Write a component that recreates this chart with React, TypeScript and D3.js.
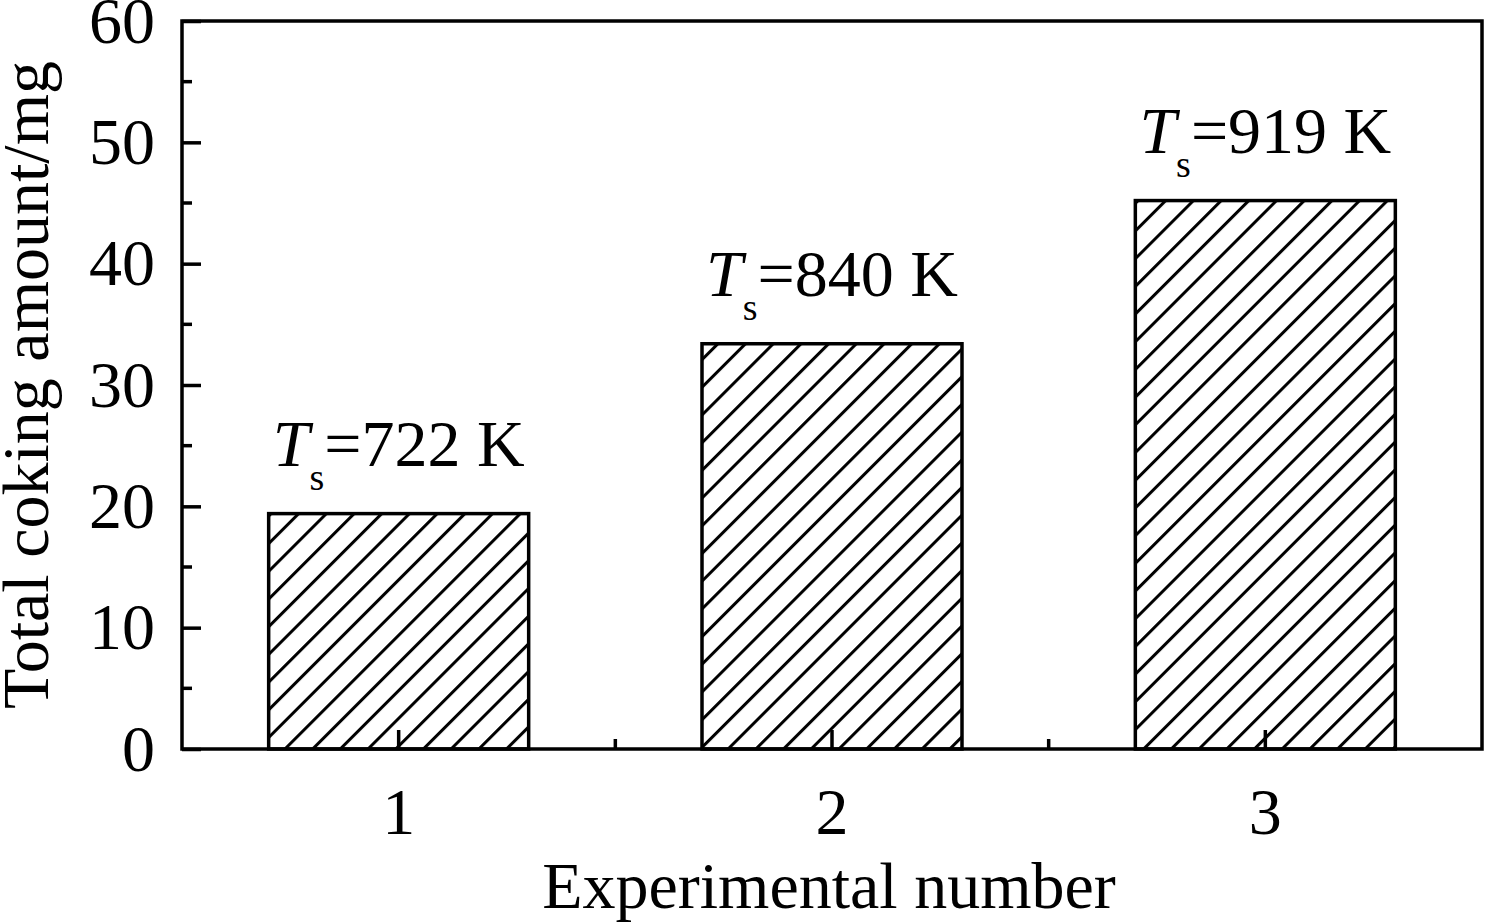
import * as d3 from "d3";
import { useRef, useEffect } from "react";

// chart data
const experiments = ["1", "2", "3"];
const cokingAmount = [19.4, 33.4, 45.2];
const surfaceTemps = ["722", "840", "919"];
const yTicks = [0, 10, 20, 30, 40, 50, 60];

export default function App(): JSX.Element {
  const svgRef = useRef<SVGSVGElement>(null);

  useEffect(() => {
    if (!svgRef.current) return;
    const svg = d3.select(svgRef.current);
    svg.selectAll("*").remove();

    const width = 1485;
    const height = 922;
    const left = 182;
    const right = 1482;
    const top = 21;
    const bottom = 749;
    const font = "'Liberation Serif', 'Times New Roman', serif";

    svg.attr("width", width).attr("height", height);

    const x = d3
      .scaleBand<string>()
      .domain(experiments)
      .range([left, right])
      .paddingInner(0.4)
      .paddingOuter(0.2);

    const y = d3.scaleLinear().domain([0, 60]).range([bottom, top]);

    // hatch pattern "/"
    const defs = svg.append("defs");
    const w = 27.7 / Math.SQRT2;
    const pat = defs
      .append("pattern")
      .attr("id", "hatch")
      .attr("patternUnits", "userSpaceOnUse")
      .attr("width", w)
      .attr("height", w)
      .attr("patternTransform", "rotate(45)");
    pat
      .append("line")
      .attr("x1", 6.4)
      .attr("x2", 6.4)
      .attr("y1", -2)
      .attr("y2", w + 2)
      .attr("stroke", "#000")
      .attr("stroke-width", 3);

    // bars
    svg
      .append("g")
      .selectAll("rect")
      .data(cokingAmount)
      .join("rect")
      .attr("x", (_, i) => x(experiments[i])!)
      .attr("y", (d) => y(d))
      .attr("width", x.bandwidth())
      .attr("height", (d) => y(0) - y(d))
      .attr("fill", "url(#hatch)")
      .attr("stroke", "#000")
      .attr("stroke-width", 3.5);

    // frame
    svg
      .append("rect")
      .attr("x", left)
      .attr("y", top)
      .attr("width", right - left)
      .attr("height", bottom - top)
      .attr("fill", "none")
      .attr("stroke", "#000")
      .attr("stroke-width", 3.5);

    // y axis
    const yAxis = svg
      .append("g")
      .attr("transform", `translate(${left},0)`)
      .call(
        d3
          .axisLeft(y)
          .tickValues(yTicks)
          .tickSizeInner(-19)
          .tickSizeOuter(0)
          .tickPadding(27)
      );
    yAxis.select(".domain").remove();
    yAxis.selectAll("line").attr("stroke-width", 3.5);
    yAxis
      .selectAll("text")
      .attr("font-family", font)
      .attr("font-size", 66)
      .attr("fill", "#000");

    // y minor ticks
    svg
      .append("g")
      .selectAll("line")
      .data(y.ticks(12).filter((t) => t % 10 !== 0))
      .join("line")
      .attr("x1", left)
      .attr("x2", left + 10)
      .attr("y1", (d) => y(d))
      .attr("y2", (d) => y(d))
      .attr("stroke", "#000")
      .attr("stroke-width", 3.5);

    // x axis
    const xAxis = svg
      .append("g")
      .attr("transform", `translate(0,${bottom})`)
      .call(d3.axisBottom(x).tickSizeInner(-19).tickSizeOuter(0).tickPadding(38));
    xAxis.select(".domain").remove();
    xAxis.selectAll("line").attr("stroke-width", 3.5);
    xAxis
      .selectAll("text")
      .attr("font-family", font)
      .attr("font-size", 66)
      .attr("fill", "#000");

    // x minor ticks at band boundaries
    svg
      .append("g")
      .selectAll("line")
      .data(experiments.slice(1))
      .join("line")
      .attr("x1", (d) => x(d)! - (x.step() * x.paddingInner()) / 2)
      .attr("x2", (d) => x(d)! - (x.step() * x.paddingInner()) / 2)
      .attr("y1", bottom)
      .attr("y2", bottom - 10)
      .attr("stroke", "#000")
      .attr("stroke-width", 3.5);

    // annotations Ts=... K
    const ann = svg
      .append("g")
      .selectAll("text")
      .data(cokingAmount)
      .join("text")
      .attr("x", (_, i) => x(experiments[i])! + x.bandwidth() / 2)
      .attr("y", (d) => y(d) - 48)
      .attr("text-anchor", "middle")
      .attr("font-family", font)
      .attr("font-size", 66)
      .attr("fill", "#000");
    ann.append("tspan").attr("font-style", "italic").text("T");
    ann.append("tspan").attr("font-size", 38).attr("dy", 24).text("s");
    ann
      .append("tspan")
      .attr("dy", -24)
      .text((_, i) => `=${surfaceTemps[i]} K`);

    // axis titles
    svg
      .append("text")
      .attr("x", (left + right) / 2 - 3)
      .attr("y", 908)
      .attr("text-anchor", "middle")
      .attr("font-family", font)
      .attr("font-size", 66)
      .text("Experimental number");

    svg
      .append("text")
      .attr("transform", `translate(48,${(top + bottom) / 2}) rotate(-90)`)
      .attr("text-anchor", "middle")
      .attr("font-family", font)
      .attr("font-size", 66)
      .text("Total coking amount/mg");

    return () => {
      svg.selectAll("*").remove();
    };
  }, []);

  return (
    <div style={{ position: "absolute", left: 0, top: 0 }}>
      <svg ref={svgRef} style={{ display: "block", background: "#fff" }} />
    </div>
  );
}
